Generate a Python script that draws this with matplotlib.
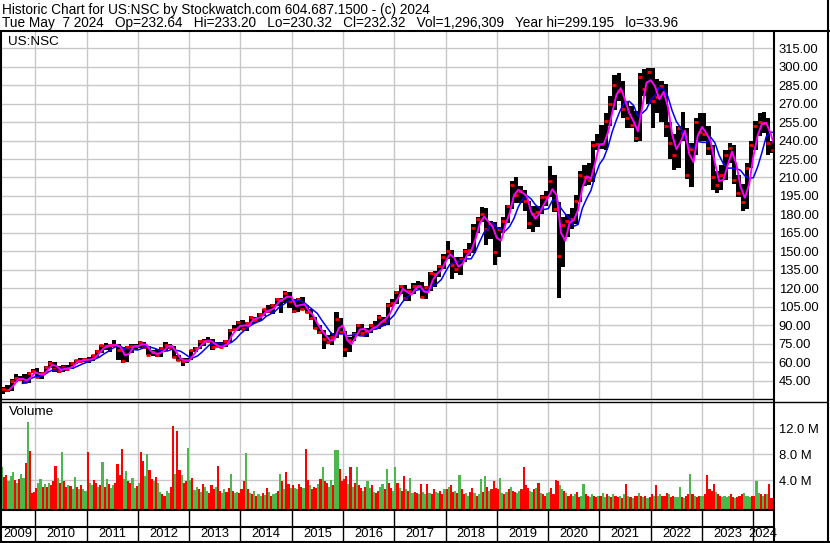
import numpy as np
import pandas as pd
import matplotlib
matplotlib.use('Agg')
import matplotlib.pyplot as plt
from matplotlib.lines import Line2D
from matplotlib.ticker import FormatStrFormatter

plt.rcParams['font.family'] = ['Liberation Sans', 'DejaVu Sans']
plt.rcParams['font.size'] = 9.4

# monthly bars, May 2009 .. May 2024
first_month = 2009 + 4 / 12
high = [
    40, 41, 46, 50, 49, 50, 52, 54.5,                                    # 2009
    55, 52, 57, 61, 60, 56.5, 57.5, 58, 60, 62, 63, 63.5,                # 2010
    64, 66, 70, 74, 75.5, 75, 78, 75, 72, 73, 75, 74.5,                  # 2011
    77, 76, 73, 70, 71, 72.5, 76, 75, 73, 66, 63, 63.5,                  # 2012
    70, 72, 78, 79, 80, 78.5, 76.5, 76, 78, 86.5, 90, 93,                # 2013
    94, 92.5, 97.5, 97, 100, 103.5, 106, 107, 112, 112, 117.5, 117,      # 2014
    111, 112, 113, 106, 103, 97, 90, 86, 82, 84, 101, 96,                # 2015
    85, 80, 84.5, 91, 91, 88, 91, 93, 98, 97, 108, 111,                  # 2016
    118, 123, 123, 119, 124, 126, 125, 122, 133, 134, 139, 148,          # 2017
    158, 151, 145, 145, 152, 157, 172, 178, 186, 185, 175, 174,          # 2018
    170, 178, 188, 207, 210, 203, 200, 191, 187, 186.5, 196, 199,        # 2019
    219, 212, 190, 178, 180, 185, 196, 215, 220, 222, 240, 245,          # 2020
    253, 262, 276, 293, 295, 288, 272, 268, 264, 295, 298, 299,          # 2021
    299, 290, 288, 286, 255, 245, 252, 263, 250, 238, 258, 262,          # 2022
    262, 252, 236, 215, 220, 232, 238, 236, 212, 205, 222, 240,          # 2023
    256, 262, 263, 258, 240,                                             # 2024
]
low = [
    34, 36, 36.5, 44, 45, 42.5, 43, 51,
    47.5, 46, 51, 55.5, 52, 51, 52, 53, 54, 58.5, 59, 60,
    59, 61, 63.5, 67.5, 70, 68.5, 72.5, 61.5, 59, 60, 67, 70,
    71.5, 70.5, 66, 65, 64.5, 64.5, 69, 70.5, 63, 61, 57, 59.5,
    62, 68.5, 71, 73, 76, 70, 72, 71.5, 72, 76, 85, 85.5,
    86, 85.5, 90, 91.5, 93.5, 97.5, 100, 99, 105.5, 100, 108, 104,
    99.5, 101, 102, 100, 94, 87, 83, 71, 74.5, 74, 79.5, 83,
    64.5, 68, 77, 81, 82, 80.5, 83.5, 87.5, 87, 89, 90.5, 104.5,
    107, 115, 109.5, 110, 115, 119.5, 112, 111.5, 118, 121, 129, 136,
    144, 127.5, 132, 131, 141, 146, 149, 165, 174, 155, 160, 139,
    145, 164.5, 173, 184.5, 189, 189, 183, 168.5, 166, 170, 180, 186.5,
    194, 182, 112, 137, 162, 168, 172, 190, 203, 204, 206, 232,
    233, 232, 252, 265, 272, 258, 250, 250, 239, 240, 276, 270,
    250, 262, 255, 243, 225, 216, 218, 240, 209, 202, 228, 240,
    240, 228, 200, 197, 200, 208, 222, 205, 194, 183, 184, 218,
    232, 244, 246, 228, 230,
]
close = [
    38, 37.5, 45, 47, 46, 44, 51, 52.5,
    48, 51.5, 56, 59.5, 54, 53, 56, 54, 59.5, 61.5, 61, 62.8,
    61.5, 65.5, 69, 73.5, 73, 74, 74, 70, 61, 72.5, 73, 72.8,
    76, 72.5, 66, 68, 66, 71.5, 74, 72.5, 64, 62, 60.5, 61.8,
    69.5, 71.5, 77, 77.5, 77.5, 72.5, 73, 72.5, 77, 86, 86.5, 92.5,
    87, 92, 97, 94.5, 99, 103, 101.5, 106.5, 111.5, 110.5, 116, 109.5,
    101.5, 111, 103, 100.5, 95.5, 87.5, 84.5, 78.5, 76.5, 80, 95, 84.5,
    71, 78, 83, 90, 84, 85, 90, 88, 97, 93, 106, 108,
    117, 122, 112, 117.5, 122, 122, 112.5, 121, 132, 131.5, 138, 145,
    150.5, 139, 136, 143.5, 150, 151, 169, 176, 180.5, 168, 172, 149.5,
    168, 175, 187, 204, 196, 199, 191, 173, 180, 182, 194, 194,
    207, 184, 146, 171, 175, 176, 191, 212, 210, 208, 236, 237.5,
    237, 256, 270, 285, 280, 266, 258, 253, 242, 292, 282, 296,
    272, 275, 284, 252, 238, 228, 250, 246, 212, 233, 255, 247,
    245, 234, 210, 204, 212, 228, 234, 208, 197, 190, 218, 236,
    252, 255, 254, 238, 232.3,
]

# volume in millions, two bars per month
volume = [
    6.0, 4.5, 4.8, 3.9, 4.6, 5.2, 4.0, 3.6, 4.2, 5.0, 4.4, 6.6, 13.0, 8.5, 2.0, 2.2,
    2.8, 3.5, 4.2, 3.0, 3.4, 2.9, 3.6, 3.2, 3.8, 6.2, 4.4, 3.6, 8.3, 3.9, 2.9, 3.3, 3.1, 2.6, 4.5, 3.0, 2.7, 3.2, 2.6, 2.4,
    8.3, 3.5, 3.2, 4.0, 3.6, 2.9, 3.3, 6.8, 3.0, 4.1, 3.4, 2.8, 3.2, 3.6, 6.5, 4.8, 8.8, 4.2, 5.4, 3.9, 3.6, 4.4, 2.8, 3.1,
    3.5, 8.3, 7.0, 4.6, 8.0, 5.5, 4.2, 3.8, 4.5, 3.6, 2.2, 1.8, 1.6, 2.4, 2.0, 3.0, 12.4, 5.0, 11.6, 5.5, 4.8, 3.5, 3.8, 9.0,
    4.0, 4.4, 2.5, 3.0, 2.6, 2.2, 3.4, 3.0, 2.4, 2.0, 3.2, 2.6, 3.0, 6.2, 2.4, 2.0, 2.6, 2.2, 2.8, 5.0, 2.4, 2.0, 2.2, 2.0,
    2.6, 3.8, 8.2, 2.6, 2.0, 1.8, 2.4, 1.6, 1.8, 1.5, 2.0, 1.7, 2.8, 2.2, 1.6, 1.9, 2.0, 2.4, 5.0, 3.8, 2.6, 5.3, 3.4, 2.8,
    3.2, 2.8, 2.6, 3.4, 3.0, 2.8, 8.8, 4.0, 3.2, 2.6, 3.0, 2.8, 3.4, 4.2, 6.0, 3.8, 3.6, 3.0, 4.0, 3.2, 8.6, 8.6, 5.7, 3.8,
    4.2, 4.6, 3.4, 6.0, 3.0, 3.6, 6.1, 3.2, 2.8, 2.4, 3.0, 3.8, 2.8, 3.2, 2.2, 2.0, 2.4, 3.0, 3.4, 2.6, 5.7, 3.6, 2.8, 2.4,
    6.0, 3.6, 2.8, 2.4, 4.6, 2.6, 2.4, 4.3, 2.0, 2.2, 2.0, 1.8, 3.4, 2.2, 1.8, 3.4, 2.0, 1.8, 2.6, 2.2, 2.0, 2.4, 1.8, 2.6,
    2.6, 3.0, 3.2, 2.2, 2.4, 2.0, 4.8, 2.6, 1.8, 2.0, 1.6, 2.2, 2.8, 2.0, 1.6, 1.8, 4.2, 2.2, 4.7, 3.0, 2.4, 2.6, 3.9, 2.8,
    2.6, 4.3, 2.0, 1.8, 2.2, 2.6, 3.0, 2.4, 2.2, 2.0, 2.4, 2.6, 6.1, 3.2, 2.8, 2.4, 2.2, 2.6, 2.8, 3.6, 2.0, 1.8, 1.6, 2.0,
    2.2, 2.8, 1.8, 4.0, 3.8, 3.2, 2.6, 2.4, 2.0, 1.6, 1.8, 1.6, 1.8, 2.2, 1.4, 1.6, 3.4, 1.8, 1.6, 1.4, 1.8, 1.5, 1.4, 1.6,
    1.6, 2.0, 1.4, 1.8, 1.6, 1.4, 1.8, 1.5, 1.4, 1.6, 1.3, 1.8, 3.4, 1.6, 1.4, 1.2, 1.5, 1.6, 2.0, 1.6, 1.4, 1.5, 1.3, 1.4,
    1.8, 1.6, 3.2, 1.6, 1.8, 1.5, 1.6, 2.0, 1.8, 1.4, 1.6, 1.4, 1.4, 3.0, 1.4, 1.2, 1.6, 1.8, 5.0, 1.8, 1.6, 1.4, 1.5, 1.6,
    1.6, 1.8, 4.8, 2.6, 2.4, 3.4, 2.2, 1.8, 1.6, 1.4, 1.5, 1.4, 1.6, 1.8, 1.4, 1.2, 1.4, 1.6, 1.8, 2.0, 1.5, 1.6, 1.4, 1.6,
    1.6, 3.8, 2.0, 1.8, 1.6, 1.8, 1.8, 3.4, 1.3,
]
# g = up, r = down
vol_dir = (
    "grrgggrgrggrgrrr"
    "rggrgrgrrrgrgrrgrggrgrgg"
    "rggrrgrgrgrggrrrrggrrggr"
    "grrggrrgrggrrggrrgrrgrrg"
    "grggrgrggrrrgrrggrrgrggr"
    "rrgrgrgrggrgrgrggrgrgrrg"
    "rggrrgrrgrrrgrgrrggrggrr"
    "rrgrgrgrrgrggrgrrggrgrrg"
    "grgrrgrggrrgrggrgrrggrrg"
    "rgrrgrgrrggrrgrggrgrgrrr"
    "rggrgrgrrggrrrrggrgrgrrg"
    "grrrrggrgrrggrrggrrggrrg"
    "rggrgrgrrgrgrgrgrrgrgrgr"
    "rgrggrrrgrrgggrgrrgrgrrg"
    "grrrrrgrrggggrrgrrrggggr"
    "rggrgrgrr"
)

years = list(range(2009, 2025))
price_ticks = list(range(45, 316, 15))
vol_ticks = [4, 8, 12]

W, H = 830, 543
x_min, x_max = 2009.333, 2024.383

fig = plt.figure(figsize=(W / 100, H / 100), dpi=100)


def box(x0, y0, x1, y1):
    return [x0 / W, 1 - y1 / H, (x1 - x0) / W, (y1 - y0) / H]


def line(x0, y0, x1, y1, lw=1.5):
    fig.add_artist(Line2D([x0 / W, x1 / W], [1 - y0 / H, 1 - y1 / H],
                          color='black', lw=lw, solid_capstyle='butt'))


def setup(ax):
    for s in ax.spines.values():
        s.set_visible(False)
    ax.set_xlim(x_min, x_max)
    ax.set_xticks(years[1:])
    ax.tick_params(axis='x', length=0, labelbottom=False)
    ax.grid(True, color='#c8c8c8', lw=1)
    ax.set_axisbelow(True)


n = len(close)
mid = first_month + (np.arange(n) + 0.5) / 12
end = first_month + (np.arange(n) + 1) / 12
s_close = pd.Series(close)
ma_short = s_close.rolling(2).mean()
ma_long = s_close.rolling(5).mean()

# price panel
ax = fig.add_axes(box(1, 31, 773, 399))
setup(ax)
ax.set_ylim(30, 329)
ax.bar(mid, np.array(high) - np.array(low), bottom=low, width=1 / 12,
       color='black', linewidth=0, zorder=2)
ax.plot(mid, close, ls='none', marker='_', color='red', ms=3, mew=2, zorder=3)
ax.plot(end, ma_long, color='#0000ff', lw=1.1, zorder=4)
ax.plot(end, ma_short, color='#ff00ff', lw=1.4, zorder=5)
ax.yaxis.tick_right()
ax.set_yticks(price_ticks)
ax.yaxis.set_major_formatter(FormatStrFormatter('%.2f'))
ax.tick_params(axis='y', length=0, pad=4)
ax.annotate('US:NSC', xy=(0, 1), xycoords='axes fraction', xytext=(7, -5),
            textcoords='offset pixels', va='top', ha='left', fontsize=9.7)

# volume panel
vax = fig.add_axes(box(1, 401, 773, 509))
setup(vax)
vax.set_ylim(-0.45, 16.2)
half = first_month + (np.arange(len(volume)) + 0.5) / 24
vcol = ['#4cb84c' if d == 'g' else '#ff0000' for d in vol_dir]
vax.bar(half, np.array(volume) + 0.45, bottom=-0.45, width=1 / 24,
        color=vcol, linewidth=0)
vax.yaxis.tick_right()
vax.set_yticks(vol_ticks)
vax.set_yticklabels(['%.1f M' % v for v in vol_ticks])
vax.tick_params(axis='y', length=0, pad=4)
vax.annotate('Volume', xy=(0, 1), xycoords='axes fraction', xytext=(8, -5),
             textcoords='offset pixels', va='top', ha='left', fontsize=9.7)

# year strip
yax = fig.add_axes(box(1, 509, 773, 541))
for s in yax.spines.values():
    s.set_visible(False)
yax.set_xlim(x_min, x_max)
yax.set_ylim(0, 2)
yax.set_xticks([])
yax.set_yticks([])
for yr in years[1:]:
    yax.axvline(yr, color='black', lw=1)
for yr in years:
    c = (max(yr, x_min) + min(yr + 1, x_max)) / 2
    yax.text(c, 0.45, str(yr), ha='center', va='center')

# header
fig.text(2 / W, 1 - 3 / H,
         'Historic Chart for US:NSC by Stockwatch.com 604.687.1500 - (c) 2024',
         va='top', ha='left', fontsize=9.8)
fig.text(2 / W, 1 - 16 / H,
         'Tue May  7 2024   Op=232.64   Hi=233.20   Lo=230.32   Cl=232.32   '
         'Vol=1,296,309   Year hi=299.195   lo=33.96',
         va='top', ha='left', fontsize=9.8)

# frame
line(0, 30.5, W, 30.5)
line(0.8, 31, 0.8, 542)
line(827.5, 0, 827.5, H)
line(773.5, 31, 773.5, 542)
line(0, 399, 773, 399, lw=1)
line(0, 401.5, 828, 401.5, lw=1)
line(0, 509.5, 773, 509.5)
line(0, 527, 773, 527)
line(0, 541.8, W, 541.8)

fig.savefig('out.png', dpi=100)
